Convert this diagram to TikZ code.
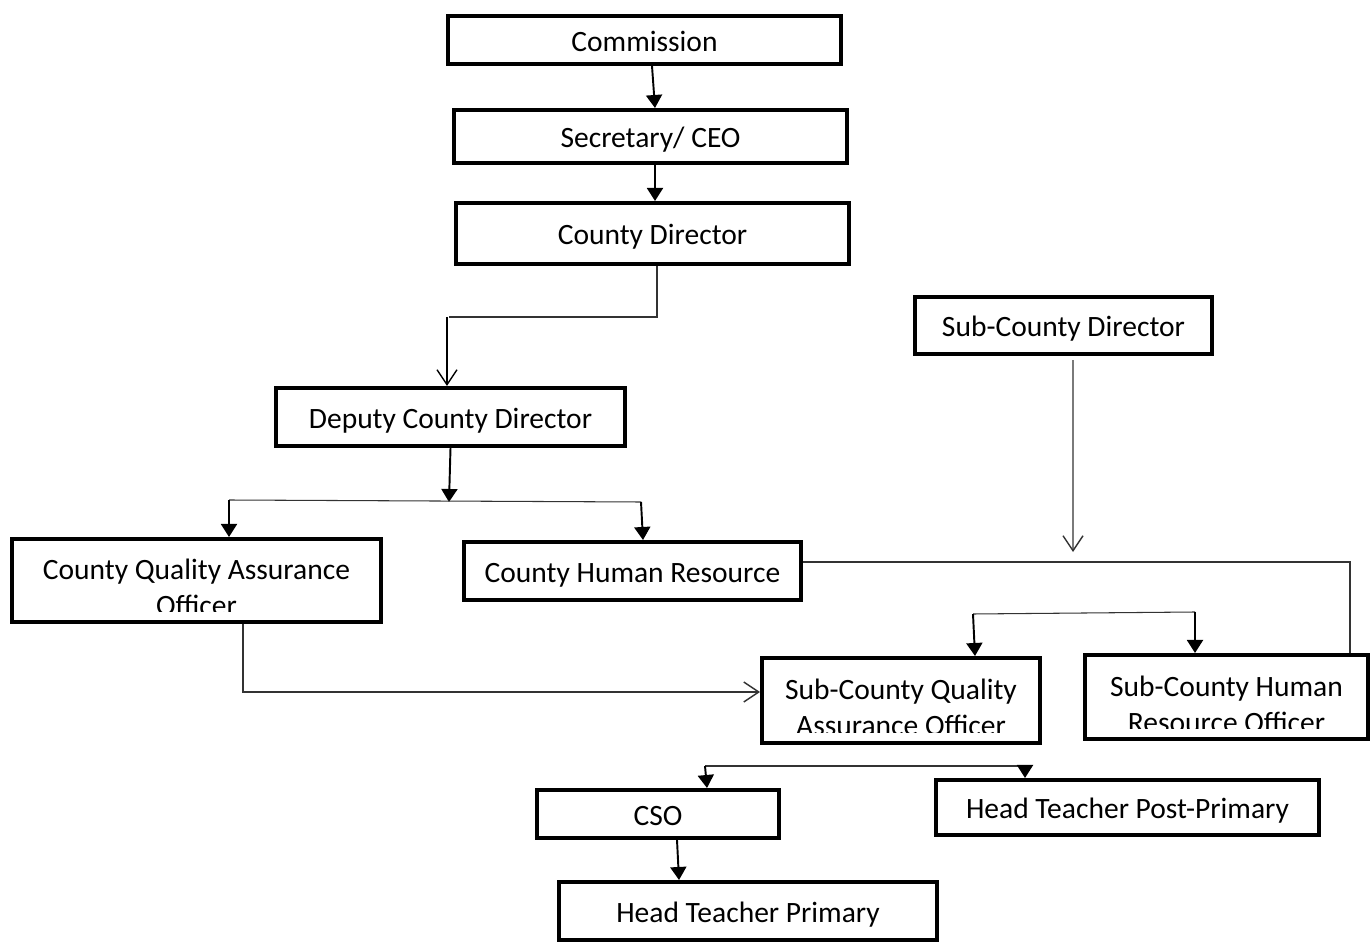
\documentclass[tikz,border=0pt]{standalone}
\usepackage{fontspec}
\setmainfont{Carlito}
\usetikzlibrary{arrows.meta, positioning}

\begin{document}
\begin{tikzpicture}[x=0.02cm, y=-0.02cm]
\tikzset{
    box/.style={draw, line width=2.3pt, inner sep=0pt, text height=13pt, text depth=0pt,
        font=\fontsize{16.8}{20.5}\selectfont},
    cutbox/.style={draw, line width=2.3pt, inner sep=0pt, path picture={
        \clip (path picture bounding box.north west) rectangle ([yshift=0.2cm]path picture bounding box.south east);
        \node[anchor=north, align=center, inner sep=0pt, font=\fontsize{16.8}{20.5}\selectfont]
            at ([yshift=-0.1cm]path picture bounding box.north) {#1};}},
    arr/.style={line width=1.1pt, -{Triangle[width=0.32cm, length=0.26cm]}},
    openarr/.style={line width=0.8pt, -{Straight Barb[width=0.4cm, length=0.3cm, line width=0.8pt]}},
    thinline/.style={line width=0.6pt, black!80}
}
\useasboundingbox (0,0) rectangle (1372,945);

% Boxes
\node[box, minimum width=7.86cm, minimum height=0.96cm] (comm) at (644.5,40) {Commission};
\node[box, minimum width=7.86cm, minimum height=1.06cm] (sec) at (650.5,136.5) {Secretary/ CEO};
\node[box, minimum width=7.86cm, minimum height=1.22cm] (cdir) at (652.5,233.5) {County Director};
\node[box, minimum width=5.94cm, minimum height=1.14cm] (scdir) at (1063.5,325.5) {Sub-County Director};
\node[box, minimum width=6.98cm, minimum height=1.16cm] (dcd) at (450.5,417) {Deputy County Director};
\node[cutbox={County Quality Assurance\\Officer}, minimum width=7.38cm, minimum height=1.66cm] (cqa) at (196.5,580.5) {};
\node[box, minimum width=6.74cm, minimum height=1.16cm] (chr) at (632.5,571) {County Human Resource};
\node[cutbox={Sub-County Quality\\Assurance Officer}, minimum width=5.56cm, minimum height=1.70cm] (scqa) at (901,700.5) {};
\node[cutbox={Sub-County Human\\Resource Officer}, minimum width=5.66cm, minimum height=1.68cm] (schr) at (1226.5,697) {};
\node[box, minimum width=4.84cm, minimum height=0.96cm] (cso) at (658,814) {CSO};
\node[box, minimum width=7.66cm, minimum height=1.10cm] (htpp) at (1127.5,807.5) {Head Teacher Post-Primary};
\node[box, minimum width=7.56cm, minimum height=1.16cm] (htp) at (748,911) {Head Teacher Primary};

% Junctions
\coordinate (j1) at (447,317);
\coordinate (j2) at (449,502);
\coordinate (b1) at (229,500);
\coordinate (b2) at (641,502);
\coordinate (j3) at (1073,552);
\coordinate (c1) at (1350,562);
\coordinate (b3) at (973,614);
\coordinate (b4) at (1195,612);
\coordinate (c2) at (243,692);
\coordinate (b5) at (705,766);
\coordinate (b6) at (1025,766);

% Connectors
\draw[arr] ([xshift=0.15cm]comm.south) -- ([xshift=0.09cm]sec.north);
\draw[arr] ([xshift=0.09cm]sec.south) -- ([xshift=0.05cm]cdir.north);
\draw[thinline] ([xshift=0.09cm]cdir.south) |- ([xshift=0.04cm]j1);
\draw[openarr] (j1) -- (j1 |- dcd.north);

\draw[arr] (dcd.south) -- (j2);
\draw[thinline] (b1) -- (b2);
\draw[arr] (b1) -- (b1 |- cqa.north);
\draw[arr] (b2) -- ([xshift=0.04cm]b2 |- chr.north);

\draw[thinline, openarr] ([xshift=0.19cm, yshift=-0.08cm]scdir.south) -- (j3);
\draw[thinline] (chr.east |- c1) -- (c1) -- (c1 |- schr.north);

\draw[thinline] (b3) -- (b4);
\draw[arr] (b3) -- ([xshift=0.04cm]b3 |- scqa.north);
\draw[arr] (b4) -- (b4 |- schr.north);

\draw[thinline, openarr] ([xshift=0.93cm]cqa.south) |- (scqa.west |- c2);

\draw[thinline] (b5) -- (b6);
\draw[arr] (b5) -- ([xshift=0.04cm]b5 |- cso.north);
\draw[arr] (b6) -- (b6 |- htpp.north);
\draw[arr] ([xshift=0.38cm]cso.south) -- ([xshift=-1.38cm]htp.north);
\end{tikzpicture}
\end{document}
